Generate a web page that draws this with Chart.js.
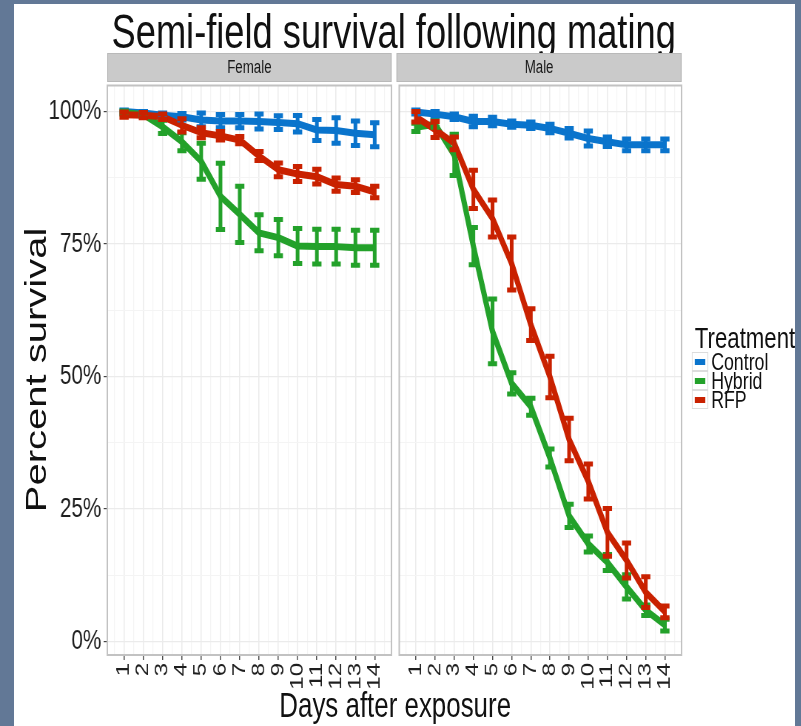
<!DOCTYPE html>
<html>
<head>
<meta charset="utf-8">
<script src="https://cdn.jsdelivr.net/npm/chart.js@4.4.1/dist/chart.umd.min.js"></script>
<style>
  html, body { margin:0; padding:0; background:#627896; }
  #stage { position:absolute; left:0; top:0; width:801px; height:726px; overflow:hidden; background:#627896; }
  #sheet { position:absolute; left:14px; top:4px; width:781px; height:722px; background:#fff; }
  /* the slide squeezed the ggplot picture sideways, so draw wide and squeeze */
  #inner { position:absolute; left:0; top:0; width:1083px; height:726px;
           transform:scaleX(0.74); transform-origin:0 0;
           font-family:"Liberation Sans", Arial, sans-serif; color:#111; }
  .txt { position:absolute; white-space:nowrap; }
  .strip { position:absolute; top:53px; height:29px; box-sizing:border-box; background:#cacaca;
           border:1px solid #b9b9b9; text-align:center; line-height:27px; font-size:18px; color:#1a1a1a; }
  .box { position:absolute; }
  .key { position:absolute; left:935px; width:22px; height:19px; box-sizing:border-box; border:1px solid #dcdcdc; background:#fff; }
  .key i { position:absolute; left:3px; right:3px; top:6px; height:6px; }
  .lab { position:absolute; left:961px; font-size:24px; line-height:19px; height:19px; }
</style>
</head>
<body>
<div id="stage">
  <div id="sheet"></div>
  <div id="inner">
    <div class="txt" style="left:132px;width:800px;top:7px;height:49px;line-height:49px;font-size:49px;text-align:center;">Semi-field survival following mating</div>
    <div class="strip" style="left:145px;width:384px;">Female</div>
    <div class="strip" style="left:536px;width:385px;">Male</div>
    <div class="txt" style="left:49px;top:370px;font-size:40px;transform:translate(-50%,-50%) rotate(-90deg);">Percent survival</div>
    <div class="txt" style="left:234px;width:600px;top:687px;height:35px;line-height:35px;font-size:35px;text-align:center;">Days after exposure</div>
    <div class="txt" style="left:939px;top:323px;height:30px;line-height:30px;font-size:30px;">Treatment</div>
    <div id="legend"></div>
    <div class="box" style="left:0;top:82px;width:549px;height:644px;"><canvas id="female"></canvas></div>
    <div class="box" style="left:536px;top:82px;width:405px;height:644px;"><canvas id="male"></canvas></div>
  </div>
</div>
<script>
const days = [1, 2, 3, 4, 5, 6, 7, 8, 9, 10, 11, 12, 13, 14];
const yTicks = [0, 25, 50, 75, 100];
const yTickLabels = ["0%", "25%", "50%", "75%", "100%"];
const treatments = ["Control", "Hybrid", "RFP"];
const colors = ["#0a74cc", "#23a12a", "#c92100"];

// percent surviving
const femaleControl = [100, 99.7, 99.3, 99.0, 98.4, 98.2, 98.2, 98.1, 97.9, 97.7, 96.5, 96.4, 95.9, 95.6];
const femaleHybrid  = [99.8, 99.4, 97.1, 94.3, 90.6, 84.0, 80.6, 77.1, 76.2, 74.6, 74.5, 74.5, 74.3, 74.3];
const femaleRFP     = [99.4, 99.3, 99.0, 97.4, 96.0, 95.4, 94.6, 91.6, 89.0, 88.2, 87.7, 86.2, 85.9, 84.8];
const maleControl   = [99.9, 99.5, 99.0, 98.1, 98.1, 97.6, 97.4, 96.8, 95.9, 94.9, 94.3, 93.7, 93.7, 93.7];
const maleHybrid    = [97.0, 97.6, 91.8, 74.6, 58.5, 48.7, 44.3, 34.6, 23.7, 18.4, 14.9, 10.3, 5.9, 3.1];
const maleRFP       = [99.0, 96.6, 94.0, 85.3, 79.8, 71.3, 59.8, 49.9, 38.1, 30.2, 20.6, 15.3, 9.3, 5.6];

// half length of each error bar
const femaleControlErr = [0.3, 0.3, 0.4, 0.6, 1.3, 1.25, 1.25, 1.4, 1.3, 1.55, 2.0, 2.4, 2.3, 2.25];
const femaleHybridErr  = [0.3, 0.3, 1.25, 1.7, 3.4, 6.25, 5.3, 3.4, 3.4, 3.3, 3.3, 3.3, 3.3, 3.3];
const femaleRFPErr     = [0.5, 0.5, 0.5, 1.25, 0.95, 0.8, 0.7, 0.85, 1.3, 1.4, 1.4, 1.25, 1.2, 1.1];
const maleControlErr   = [0.4, 0.5, 0.5, 1.0, 0.8, 0.6, 0.6, 0.8, 0.9, 1.4, 0.9, 1.1, 1.1, 1.1];
const maleHybridErr    = [0.8, 0.6, 3.9, 3.5, 6.1, 2.0, 1.6, 1.7, 2.2, 1.5, 1.5, 2.3, 1.0, 1.1];
const maleRFPErr       = [1.0, 1.5, 1.2, 3.6, 3.5, 5.0, 3.0, 3.9, 4.0, 3.3, 4.5, 3.3, 2.9, 1.1];

// legend
document.getElementById("legend").innerHTML = treatments.map((t, i) => `
  <div class="key" style="top:${352 + i * 19}px"><i style="background:${colors[i]}"></i></div>
  <div class="lab" style="top:${352 + i * 19}px">${t}</div>`).join("");

Chart.defaults.font.family = '"Liberation Sans", Arial, sans-serif';

const yGrid = [];
yTicks.forEach((v, i) => { yGrid.push(v); if (i < yTicks.length - 1) yGrid.push((v + yTicks[i + 1]) / 2); });
const xGrid = [days[0] - 0.5];
days.forEach(d => { xGrid.push(d); xGrid.push(d + 0.5); });

const errorBars = {
  id: "errorBars",
  afterDatasetsDraw(chart) {
    const { ctx } = chart;
    const x = chart.scales.x, y = chart.scales.y;
    // ggplot puts the bars on top of all lines, Control first
    [...chart.data.datasets].sort((a, b) => a.rank - b.rank).forEach(ds => {
      ctx.save();
      ctx.strokeStyle = ds.borderColor;
      ctx.lineWidth = 5;
      ds.err.forEach((e, i) => {
        const v = ds.data[i].y;
        const px = x.getPixelForValue(days[i]);
        const x0 = x.getPixelForValue(days[i] - 0.24);
        const x1 = x.getPixelForValue(days[i] + 0.24);
        const yt = y.getPixelForValue(v + e);
        const yb = y.getPixelForValue(v - e);
        ctx.beginPath();
        ctx.moveTo(px, yt); ctx.lineTo(px, yb);
        ctx.moveTo(x0, yt); ctx.lineTo(x1, yt);
        ctx.moveTo(x0, yb); ctx.lineTo(x1, yb);
        ctx.stroke();
      });
      ctx.restore();
    });
  },
  afterDraw(chart) {
    const { ctx, chartArea: a } = chart;
    ctx.save();
    ctx.strokeStyle = "#c2c2c2";
    ctx.lineWidth = 2;
    ctx.strokeRect(a.left, a.top, a.right - a.left, a.bottom - a.top);
    ctx.restore();
  }
};

function makePanel(id, series, errs, showY) {
  // RFP drawn last so it sits on top
  const datasets = series.map((s, i) => ({
    label: treatments[i],
    rank: i,
    data: s.map((v, j) => ({ x: days[j], y: v })),
    err: errs[i],
    borderColor: colors[i],
    borderWidth: 7,
    borderJoinStyle: "round",
    pointRadius: 0,
    tension: 0,
    order: series.length - i
  }));

  new Chart(document.getElementById(id), {
    type: "line",
    data: { datasets },
    options: {
      responsive: true,
      maintainAspectRatio: false,
      animation: false,
      layout: { padding: { left: 0, top: 0, right: 20, bottom: 0 } },
      plugins: { legend: { display: false }, tooltip: { enabled: false } },
      scales: {
        x: {
          type: "linear",
          min: 0.13, max: 14.87,
          bounds: "data",
          afterBuildTicks: s => { s.ticks = xGrid.map(v => ({ value: v })); },
          afterFit: s => { s.height = 71; s.paddingLeft = 0; s.paddingRight = 0; },
          ticks: {
            autoSkip: false, minRotation: 90, maxRotation: 90, padding: 3,
            color: "#1e1e1e", font: { size: 24 },
            callback: v => days.includes(v) ? String(v) : ""
          },
          grid: {
            color: c => days.includes(c.tick.value) ? "#ebebeb" : "#f4f4f4",
            lineWidth: c => days.includes(c.tick.value) ? 1.5 : 1.2,
            tickLength: 5,
            tickColor: c => days.includes(c.tick.value) ? "#444" : "rgba(0,0,0,0)",
            tickWidth: 1.4
          },
          border: { display: false }
        },
        y: {
          min: -2.55, max: 104.9,
          bounds: "data",
          afterBuildTicks: s => { s.ticks = yGrid.map(v => ({ value: v })); },
          afterFit: s => { s.width = showY ? 145 : 0; s.paddingTop = 0; s.paddingBottom = 0; },
          ticks: {
            display: showY, padding: 3,
            color: "#1e1e1e", font: { size: 28 },
            callback: v => { const i = yTicks.indexOf(v); return i < 0 ? "" : yTickLabels[i]; }
          },
          grid: {
            color: c => yTicks.includes(c.tick.value) ? "#ebebeb" : "#f4f4f4",
            lineWidth: c => yTicks.includes(c.tick.value) ? 1.2 : 1,
            drawTicks: showY,
            tickLength: 5,
            tickColor: c => yTicks.includes(c.tick.value) ? "#444" : "rgba(0,0,0,0)"
          },
          border: { display: false }
        }
      }
    },
    plugins: [errorBars]
  });
}

makePanel("female", [femaleControl, femaleHybrid, femaleRFP], [femaleControlErr, femaleHybridErr, femaleRFPErr], true);
makePanel("male", [maleControl, maleHybrid, maleRFP], [maleControlErr, maleHybridErr, maleRFPErr], false);
</script>
</body>
</html>
